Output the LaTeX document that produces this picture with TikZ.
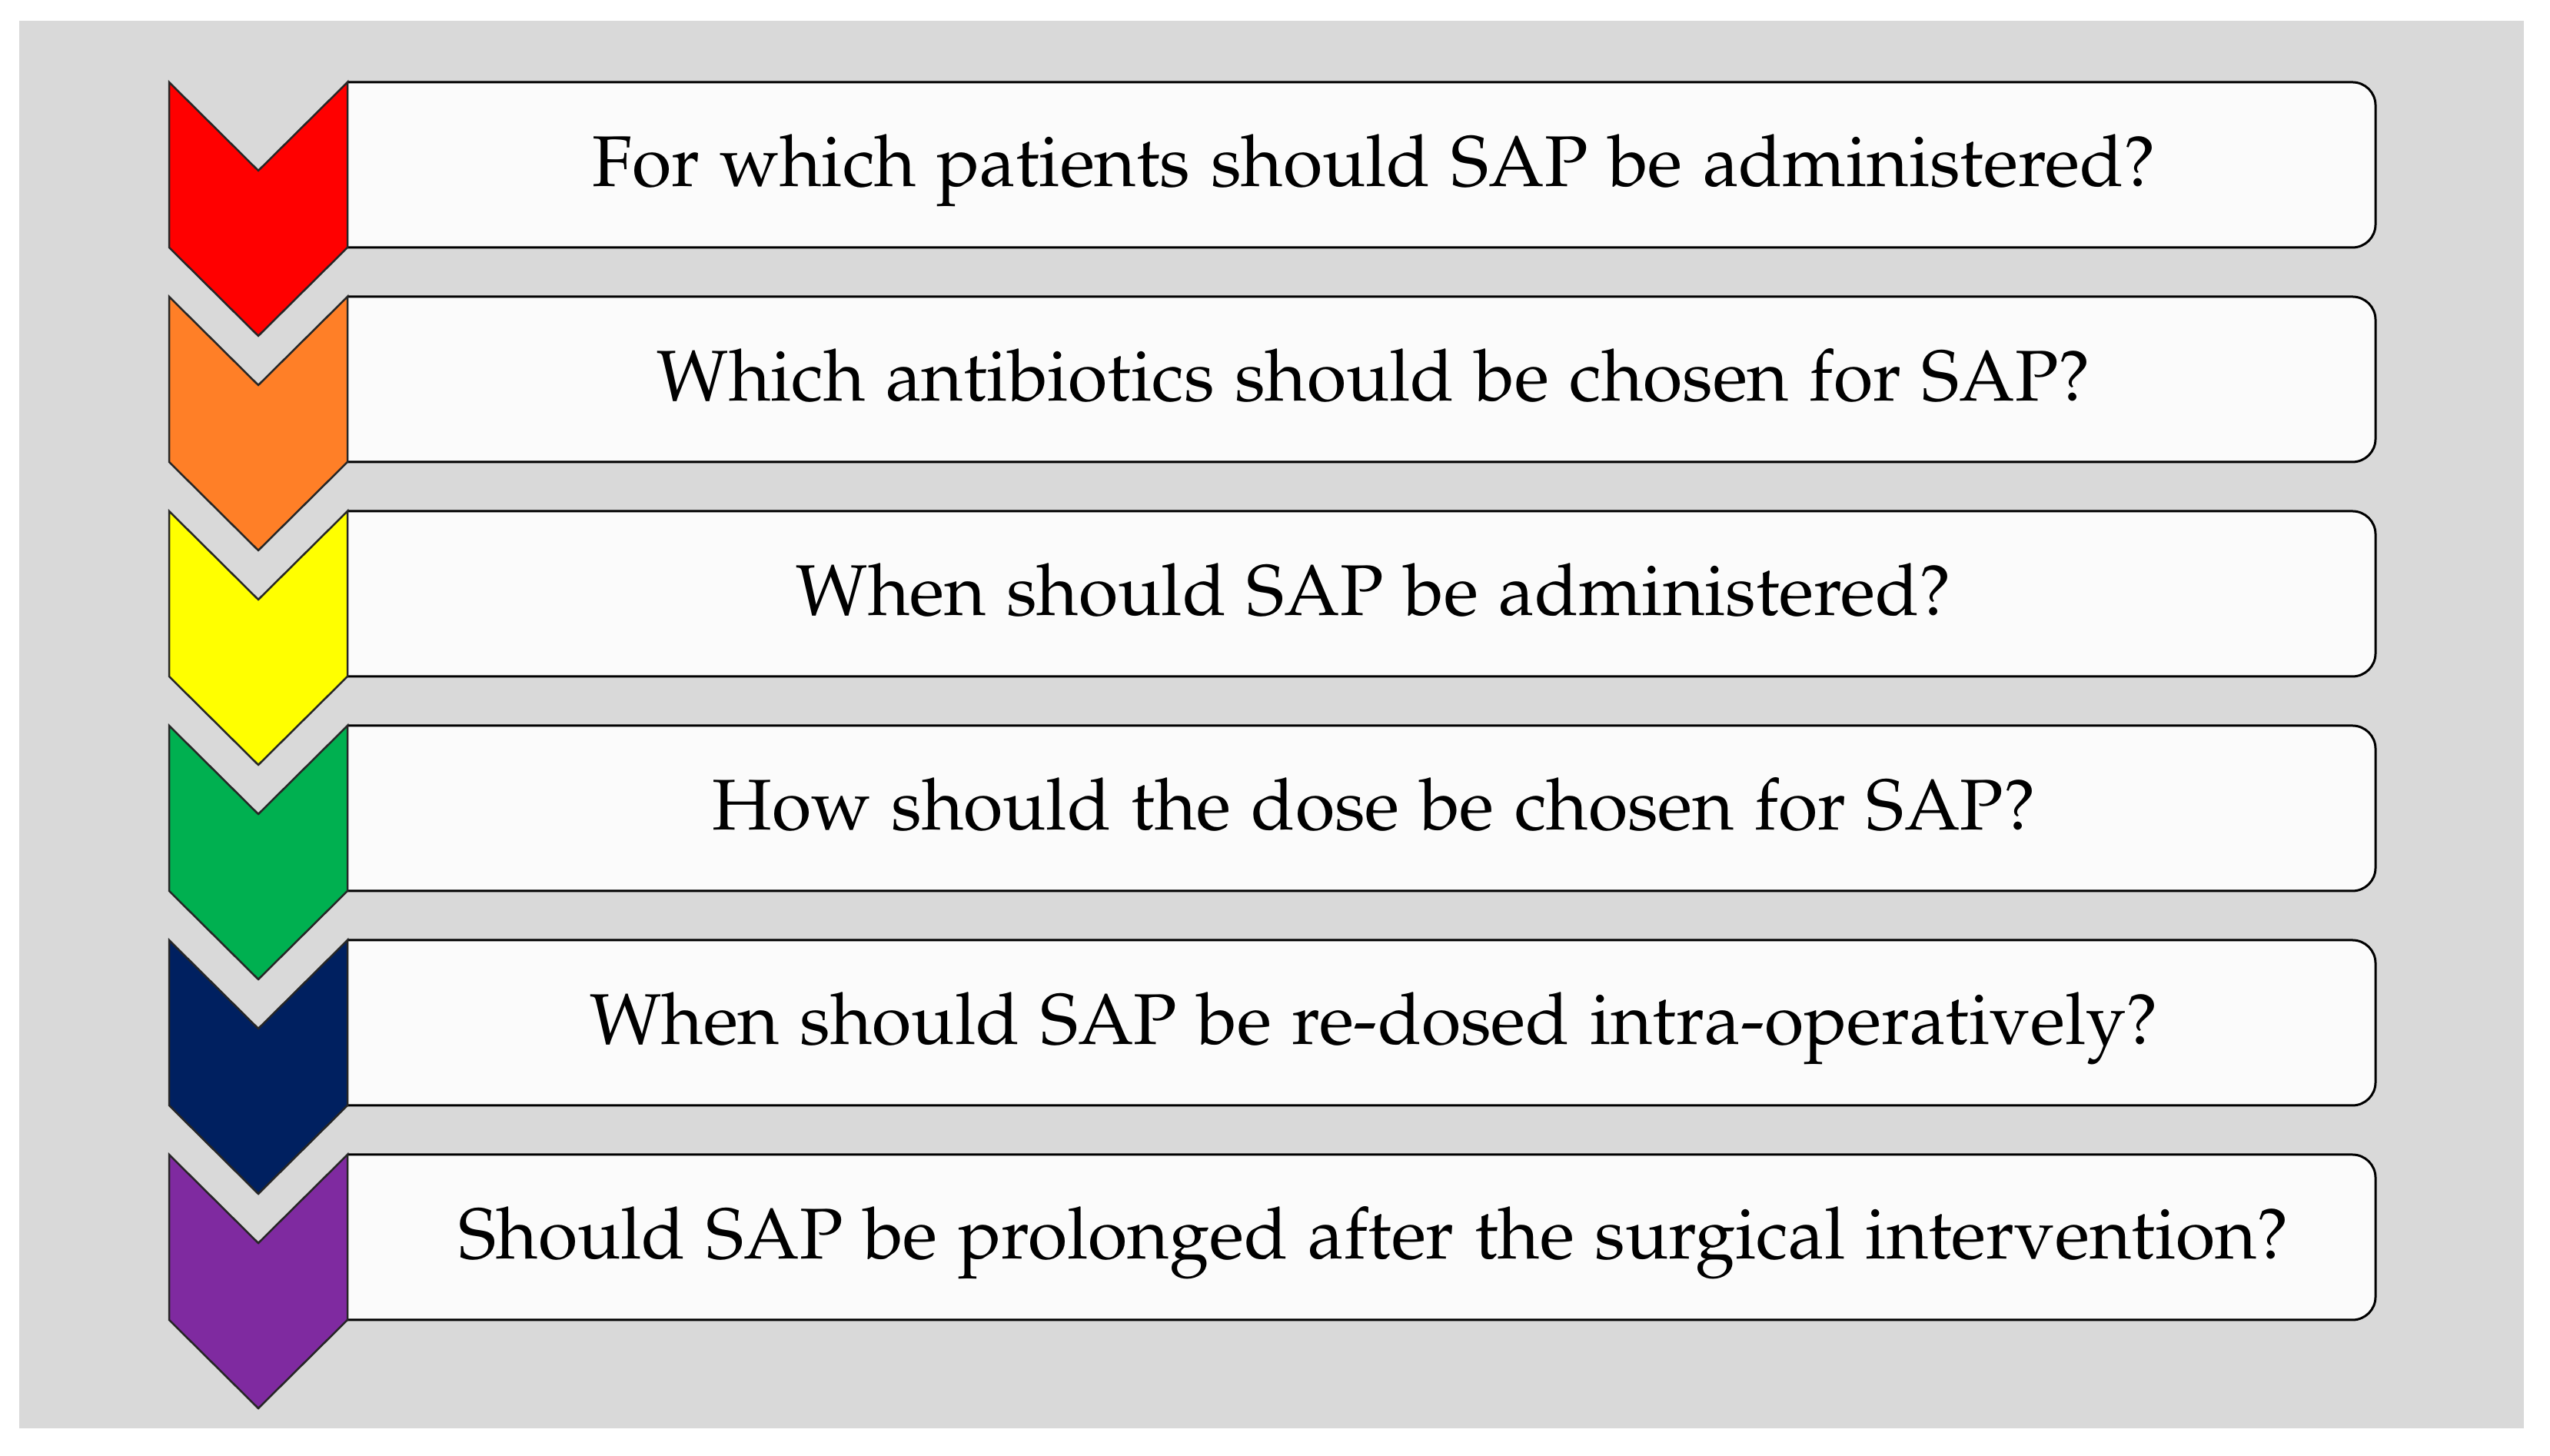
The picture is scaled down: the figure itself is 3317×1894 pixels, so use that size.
\documentclass[tikz,border=0pt]{standalone}
\usepackage[T1]{fontenc}
\usepackage{palatino}
\definecolor{bggray}{HTML}{D9D9D9}
\definecolor{boxfill}{HTML}{FBFBFB}
\definecolor{cred}{HTML}{FF0000}
\definecolor{corange}{HTML}{FF7F27}
\definecolor{cyellow}{HTML}{FFFF00}
\definecolor{cgreen}{HTML}{00B050}
\definecolor{cnavy}{HTML}{002060}
\definecolor{cpurple}{HTML}{7F2AA0}
\newcommand\qfnt{\fontsize{9.35}{11}\selectfont\spaceskip 2.65pt plus 1pt minus 0.5pt\relax}
\tikzset{
  qbox/.style={draw=black, fill=boxfill, line width=0.3pt, rounded corners=3pt},
  chev/.style={draw=black!85, line width=0.25pt, line join=miter},
  qtext/.style={anchor=base, inner sep=0pt, font=\qfnt, text=black}
}
\begin{document}
\begin{tikzpicture}[x=0.1pt, y=-0.1pt]
\useasboundingbox (0,0) rectangle (3317,1894);
\fill[bggray] (25,27) rectangle (3283,1858);
% boxes
\begin{scope}
\clip (452,0) rectangle (3317,1894);
\foreach \t in {107,386,665,944,1223,1502}{
  \draw[qbox] (400,\t) rectangle (3090,\t+215);
}
\end{scope}
% chevrons
\foreach \t/\c in {107/cred,386/corange,665/cyellow,944/cgreen,1223/cnavy,1502/cpurple}{
  \draw[chev, fill=\c] (220,\t) -- (336,\t+115) -- (452,\t) -- (452,\t+215) -- (336,\t+330) -- (220,\t+215) -- cycle;
}
% texts
\node[qtext] (q1) at (1787,243) {For which patients should SAP be administered?};
\node[qtext] (q2) at (1787,522) {Which antibiotics should be chosen for SAP?};
\node[qtext] (q3) at (1787,801) {When should SAP be administered?};
\node[qtext] (q4) at (1787,1080) {How should the dose be chosen for SAP?};
\node[qtext] (q5) at (1787,1359) {When should SAP be re-dosed intra-operatively?};
\node[qtext] (q6) at (1787,1638) {Should SAP be prolonged after the surgical intervention?};
\end{tikzpicture}
\end{document}
